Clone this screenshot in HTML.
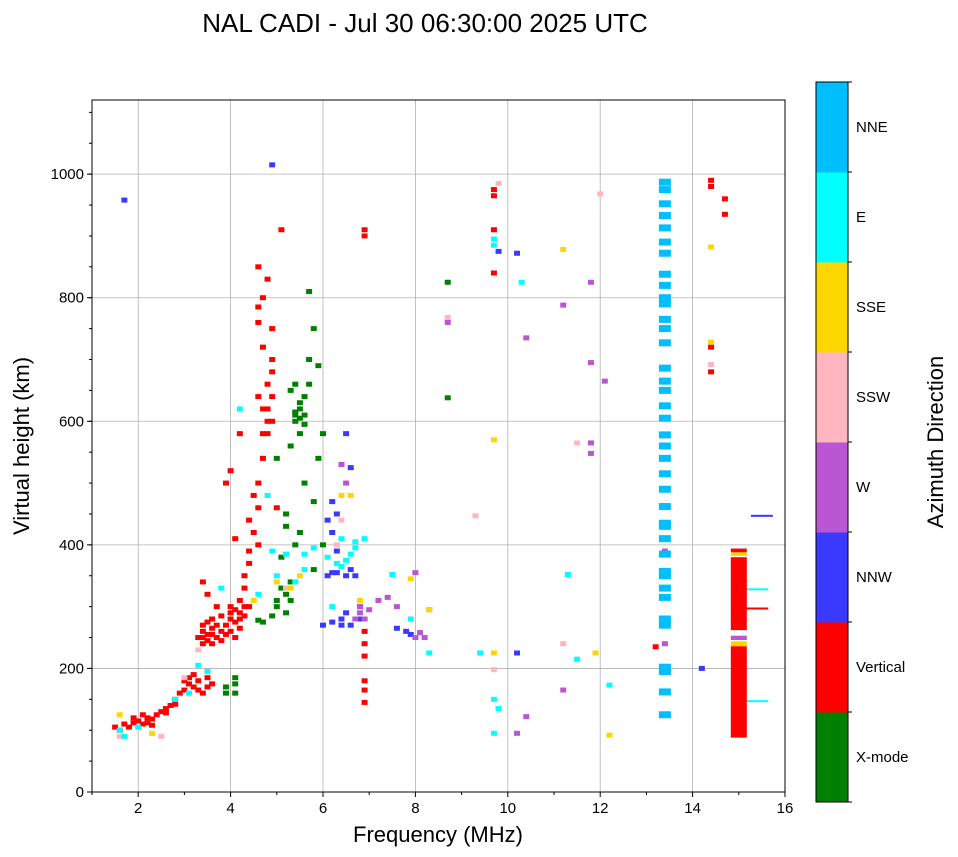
<!DOCTYPE html>
<html><head><meta charset="utf-8">
<style>
html,body{margin:0;padding:0;background:#fff;}
svg{display:block;font-family:"Liberation Sans","DejaVu Sans",sans-serif;}
</style></head>
<body>
<svg id="chart" width="958" height="857" viewBox="0 0 958 857">
<text x="425" y="32" font-size="26" text-anchor="middle">NAL CADI - Jul 30 06:30:00 2025 UTC</text>
<g id="grid"></g>
<g id="marks"></g>
<rect x="92" y="100" width="693" height="692" fill="none" stroke="#000" stroke-width="1"/>
<g id="axes"></g>
<text x="438" y="842" font-size="22" text-anchor="middle">Frequency (MHz)</text>
<text x="0" y="0" font-size="22" text-anchor="middle" transform="translate(29,446) rotate(-90)">Virtual height (km)</text>
<g id="colorbar"></g>
<text x="0" y="0" font-size="22" text-anchor="middle" transform="translate(943,442) rotate(-90)">Azimuth Direction</text>
</svg>
<script>
const NS="http://www.w3.org/2000/svg";
const xTicks=[2,4,6,8,10,12,14,16];
const yTicks=[0,200,400,600,800,1000];
const dirNames=["X-mode","Vertical","NNW","W","SSW","SSE","E","NNE"];
const dirColors=["#008000","#ff0000","#3a3aff","#ba55d3","#ffb6c1","#ffd700","#00ffff","#00bfff"];

const xmode=[[3.9,170],[4.1,185],[4.1,175],[4.1,160],[3.9,160],[4.7,275],[4.6,278],[5.0,300],[5.2,320],[5.3,340],[5.4,600],[5.5,620],[5.5,580],[5.3,560],[5.6,640],[5.7,700],[5.8,750],[6.0,580],[5.9,540],[5.6,500],[5.2,450],[5.5,420],[5.7,810],[5.3,650],[5.4,610],[8.7,825],[8.7,638],[6.0,400],[5.8,360],[5.1,380],[5.4,400],[5.5,630],[5.6,610],[5.2,290],[5.4,615],[5.5,605],[5.6,595],[5.0,310],[5.1,330],[4.9,285],[5.3,310],[5.7,660],[5.9,690],[5.4,660],[5.0,540],[5.8,470],[5.2,430]];
const vertical=[[1.5,105],[1.6,100],[1.7,110],[1.8,105],[1.9,112],[2.0,115],[2.1,110],[2.2,120],[2.3,118],[2.4,125],[2.5,130],[2.6,128],[2.7,140],[2.8,150],[2.9,160],[3.0,165],[3.1,175],[3.2,170],[3.3,180],[3.4,160],[3.5,170],[3.0,180],[3.1,185],[2.2,112],[2.6,135],[1.9,120],[2.1,125],[2.3,108],[2.8,142],[3.2,190],[3.3,165],[3.5,185],[3.6,175],[3.3,250],[3.4,260],[3.4,270],[3.5,255],[3.5,245],[3.6,265],[3.7,250],[3.8,260],[3.6,240],[3.9,270],[4.0,280],[4.1,275],[4.2,290],[4.0,260],[4.1,250],[4.3,300],[4.2,310],[4.3,330],[4.3,350],[4.4,370],[4.4,390],[4.5,420],[4.6,460],[4.6,500],[4.7,540],[4.7,580],[4.8,600],[4.8,620],[4.9,640],[4.8,660],[4.9,700],[4.6,760],[4.6,785],[4.7,800],[4.6,850],[4.8,830],[4.9,750],[4.0,520],[3.9,500],[4.2,580],[3.4,340],[3.5,320],[3.7,300],[4.1,410],[3.6,280],[3.8,285],[4.2,265],[4.4,300],[3.4,240],[3.5,275],[3.7,270],[3.8,245],[3.9,255],[4.0,290],[4.1,295],[4.2,280],[4.3,285],[4.0,300],[3.6,255],[3.4,250],[4.6,640],[4.7,620],[4.8,580],[4.9,680],[4.7,720],[4.5,480],[4.4,440],[4.6,400],[5.0,460],[4.9,600],[5.1,910],[6.9,900],[6.9,910],[6.9,260],[6.9,240],[6.9,220],[6.9,180],[6.9,165],[6.9,145],[9.7,975],[9.7,965],[9.7,910],[9.7,840],[13.2,235],[14.4,990],[14.4,980],[14.4,720],[14.4,680],[14.7,960],[14.7,935],[15.4,297]];
const nnw=[[6.1,440],[6.2,420],[6.1,350],[6.3,355],[6.5,350],[6.6,360],[6.7,350],[6.2,275],[6.4,280],[6.6,270],[6.8,280],[6.0,270],[6.5,580],[6.4,530],[6.6,525],[6.2,470],[7.6,265],[7.8,260],[7.9,255],[10.2,872],[9.8,875],[10.2,225],[14.2,200],[15.5,447],[4.9,1015],[1.7,958],[6.3,450],[6.3,390],[6.4,270],[6.5,290],[6.2,355],[6.8,300]];
const west=[[6.4,530],[6.5,500],[6.8,300],[6.8,290],[6.7,280],[7.2,310],[7.4,315],[7.6,300],[8.0,355],[8.2,250],[8.3,295],[8.0,250],[8.7,760],[10.4,735],[11.2,788],[11.8,825],[11.8,695],[12.1,665],[11.8,565],[11.8,548],[13.4,390],[13.4,240],[11.2,165],[10.4,122],[10.2,95],[6.9,280],[7.0,295],[8.1,258]];
const ssw=[[1.6,90],[2.5,90],[3.3,230],[5.2,330],[6.3,400],[8.7,768],[9.3,447],[11.2,240],[11.5,565],[12.0,968],[14.4,692],[9.8,985],[9.7,198],[6.4,440],[3.0,185]];
const sse=[[1.6,125],[2.3,95],[5.0,340],[5.3,330],[6.4,480],[6.6,480],[7.9,345],[8.3,295],[9.7,570],[9.7,225],[11.2,878],[11.9,225],[12.2,92],[14.4,882],[14.4,728],[5.5,350],[4.5,310],[6.8,310]];
const east=[[1.6,100],[1.7,90],[2.0,105],[2.8,150],[3.1,160],[3.8,330],[4.2,620],[4.8,480],[4.9,390],[5.0,350],[5.2,385],[5.6,360],[5.8,395],[6.1,380],[6.3,370],[6.5,375],[6.7,395],[6.4,410],[6.9,410],[9.7,895],[9.7,885],[9.4,225],[9.7,150],[9.8,135],[9.7,95],[11.3,352],[11.5,215],[12.2,173],[10.3,825],[15.4,328],[15.4,147],[8.3,225],[7.9,280],[7.5,352],[6.2,300],[6.4,365],[6.6,385],[6.7,405],[5.6,385],[5.4,340],[4.6,320],[3.3,205],[3.5,195]];
const nne=[[13.4,125],[13.4,162],[13.4,195],[13.4,202],[13.4,270],[13.4,280],[13.4,315],[13.4,330],[13.4,350],[13.4,357],[13.4,385],[13.4,410],[13.4,430],[13.4,435],[13.4,462],[13.4,490],[13.4,515],[13.4,540],[13.4,560],[13.4,578],[13.4,605],[13.4,625],[13.4,650],[13.4,665],[13.4,686],[13.4,727],[13.4,750],[13.4,765],[13.4,790],[13.4,800],[13.4,820],[13.4,838],[13.4,872],[13.4,890],[13.4,913],[13.4,933],[13.4,952],[13.4,975],[13.4,987]];
const barDir=[1,5,3,1,5,1];
const barLo=[88,236,246,262,382,388];
const barHi=[236,244,253,380,388,394];

const X0=92,X1=785,Y0=792,Y1=100,FMIN=1,FMAX=16,HMIN=0,HMAX=1120;
const sx=f=>X0+(f-FMIN)/(FMAX-FMIN)*(X1-X0);
const sy=h=>Y0-(h-HMIN)/(HMAX-HMIN)*(Y0-Y1);
function mk(tag,attrs,parent){const e=document.createElementNS(NS,tag);for(const k in attrs)e.setAttribute(k,attrs[k]);parent.appendChild(e);return e;}

const grid=document.getElementById('grid'),axes=document.getElementById('axes'),marks=document.getElementById('marks'),cb=document.getElementById('colorbar');
xTicks.forEach(t=>{const x=sx(t);
 if(t<FMAX){const g=mk('line',{x1:x,x2:x,y1:Y1,y2:Y0,stroke:'#b0b0b0','stroke-width':0.8},grid);}
 const tk=mk('line',{x1:x,x2:x,y1:Y0,y2:Y0+5,stroke:'#000'},axes);
 const tl=mk('text',{x:x,y:Y0+21,'font-size':15,'text-anchor':'middle'},axes);tl.textContent=t;
 
 });
for(let f=1;f<16;f+=2){const x=sx(f);const m=mk('line',{x1:x,x2:x,y1:Y0,y2:Y0+3,stroke:'#000'},axes);}
yTicks.forEach(t=>{const y=sy(t);
 if(t>0){const g=mk('line',{x1:X0,x2:X1,y1:y,y2:y,stroke:'#b0b0b0','stroke-width':0.8},grid);}
 const tk=mk('line',{x1:X0-5,x2:X0,y1:y,y2:y,stroke:'#000'},axes);
 const tl=mk('text',{x:X0-8,y:y+5,'font-size':15,'text-anchor':'end'},axes);tl.textContent=t;
 
 });
for(let h=50;h<1120;h+=50){const y=sy(h);const m=mk('line',{x1:X0-3,x2:X0,y1:y,y2:y,stroke:'#000'},axes);}

const groups=[xmode,vertical,nnw,west,ssw,sse,east,nne];
groups.forEach((pts,d)=>{pts.forEach(p=>{
 const wide=(d===7&&p[0]>13&&p[0]<14);const line=(p[0]>15.2);
 const w=wide?12:(line?22:6),hh=wide?7:(line?2:5);
 const r=mk('rect',{x:sx(p[0])-w/2,y:sy(p[1])-hh/2,width:w,height:hh,fill:dirColors[d]},marks);
 
 });});
barDir.forEach((d,i)=>{const r=mk('rect',{x:sx(15.0)-8,y:sy(barHi[i]),width:16,height:sy(barLo[i])-sy(barHi[i]),fill:dirColors[d]},marks);
 
 });

const CX=816,CW=32,CT=82,CB=802,seg=(CB-CT)/dirNames.length;
dirNames.forEach((n,i)=>{const y=CB-(i+1)*seg;
 const r=mk('rect',{x:CX,y:y,width:CW,height:seg+0.5,fill:dirColors[i]},cb);
 
 
 const t=mk('text',{x:CX+CW+8,y:y+seg/2+5,'font-size':15},cb);t.textContent=n;
 
 });
for(let i=0;i<=dirNames.length;i++){const y=CT+i*seg;const tk=mk('line',{x1:CX+CW,x2:CX+CW+4,y1:y,y2:y,stroke:'#000'},cb);}
const fr=mk('rect',{x:CX,y:CT,width:CW,height:CB-CT,fill:'none',stroke:'#000'},cb);


</script>
</body></html>
